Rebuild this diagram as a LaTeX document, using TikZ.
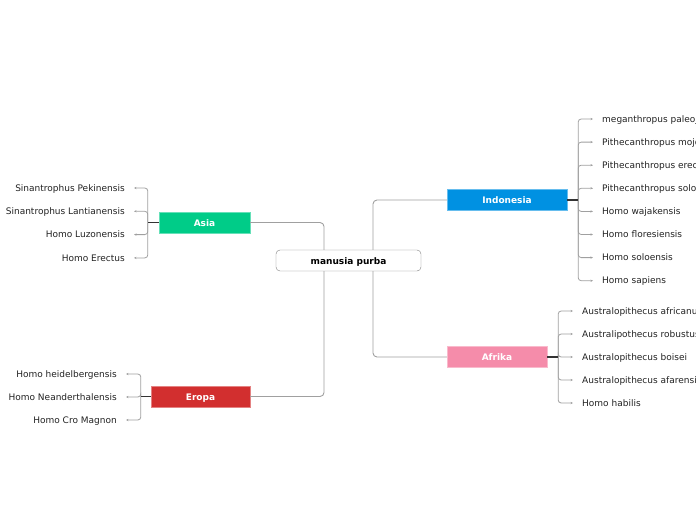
\documentclass[tikz,border=0pt]{standalone}
\usepackage{fontspec}
\setmainfont{DejaVu Sans}
\usepackage{xcolor}
\usetikzlibrary{arrows.meta, positioning, calc}
\definecolor{asiagreen}{HTML}{00CC88}
\definecolor{indoblue}{HTML}{0091E2}
\definecolor{afrikapink}{HTML}{F58CAA}
\definecolor{eropared}{HTML}{D22F2F}
\definecolor{linkgray}{HTML}{A0A0A0}
\definecolor{leafink}{HTML}{222222}

\begin{document}
\begin{tikzpicture}[
    x=1pt, y=-1pt,
    root/.style={draw=gray, fill=white, rounded corners=4pt, minimum width=145pt, minimum height=21pt, inner sep=0pt, text height=7pt, text depth=0pt, font=\fontsize{9}{10}\selectfont\bfseries},
    branch/.style={fill=#1, draw=#1!60!white, minimum height=21pt, inner sep=0pt, text height=7pt, text depth=0pt, text=white, font=\fontsize{9}{10}\selectfont\bfseries},
    leaf/.style={inner sep=0pt, text=leafink, text height=7pt, text depth=0.5pt, font=\fontsize{9}{10}\selectfont},
    link/.style={draw=linkgray, line width=0.9pt, rounded corners=4pt},
    stub/.style={draw=black!80, line width=1.4pt},
    twig/.style={draw=linkgray, line width=0.8pt, rounded corners=3pt, -{Stealth[length=2.5pt, width=2.2pt]}, shorten >=9pt},
]
    \clip (0,0) rectangle (696,520);

    % Central topic
    \node[root] (root) at (348.5,260.5) {manusia purba};

    % Main branches
    \node[branch=asiagreen, minimum width=91pt] (asia) at (204.5,222.5) {Asia};
    \node[branch=indoblue, minimum width=120pt] (indo) at (507,200) {Indonesia};
    \node[branch=afrikapink, minimum width=100pt] (afrika) at (497,357) {Afrika};
    \node[branch=eropared, minimum width=99pt] (eropa) at (200.5,396.5) {Eropa};

    \draw[link] (asia) -| ([xshift=-24.5pt]root.north);
    \draw[link] (eropa) -| ([xshift=-24.5pt]root.south);
    \draw[link] ([xshift=24.5pt]root.north) |- (indo);
    \draw[link] ([xshift=24.5pt]root.south) |- (afrika);

    % Indonesia
    \coordinate (indofork) at ([xshift=11pt]indo.east);
    \foreach \name [count=\i from 0] in {meganthropus paleojavanicus, Pithecanthropus mojokertensis, Pithecanthropus erectus, Pithecanthropus soloensis, Homo wajakensis, Homo floresiensis, Homo soloensis, Homo sapiens} {
        \node[leaf, anchor=west] (indo\i) at (602,119+23.1*\i) {\name};
        \draw[twig] (indofork) |- (indo\i);
    }
    \draw[stub] (indo) -- (indofork);

    % Afrika
    \coordinate (afrikafork) at ([xshift=11pt]afrika.east);
    \foreach \name [count=\i from 0] in {Australopithecus africanus, Australipothecus robustus, Australopithecus boisei, Australopithecus afarensis, Homo habilis} {
        \node[leaf, anchor=west] (afrika\i) at (582,311+23*\i) {\name};
        \draw[twig] (afrikafork) |- (afrika\i);
    }
    \draw[stub] (afrika) -- (afrikafork);

    % Asia
    \coordinate (asiafork) at ([xshift=-11pt]asia.west);
    \foreach \name [count=\i from 0] in {Sinantrophus Pekinensis, Sinantrophus Lantianensis, Homo Luzonensis, Homo Erectus} {
        \node[leaf, anchor=east] (asia\i) at (125,188+23.3*\i) {\name};
        \draw[twig] (asiafork) |- (asia\i);
    }
    \draw[stub] (asia) -- (asiafork);

    % Eropa
    \coordinate (eropafork) at ([xshift=-10pt]eropa.west);
    \foreach \name [count=\i from 0] in {Homo heidelbergensis, Homo Neanderthalensis, Homo Cro Magnon} {
        \node[leaf, anchor=east] (eropa\i) at (117,374+23*\i) {\name};
        \draw[twig] (eropafork) |- (eropa\i);
    }
    \draw[stub] (eropa) -- (eropafork);
\end{tikzpicture}
\end{document}
